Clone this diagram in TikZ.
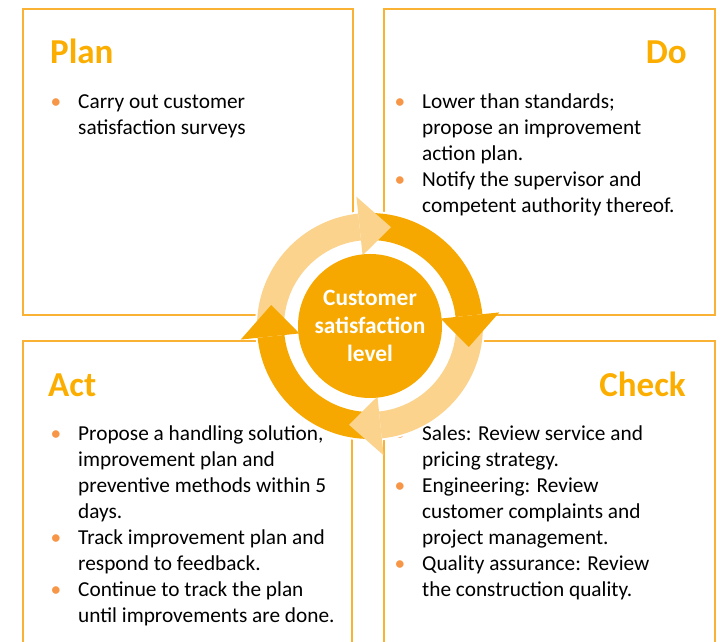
\documentclass[tikz,border=0pt]{standalone}
\usepackage{fontspec}
\setmainfont{Carlito}
\usetikzlibrary{positioning}

\definecolor{ringdark}{HTML}{F7A800}
\definecolor{ringlight}{HTML}{FBD38D}
\definecolor{boxline}{HTML}{F9B233}
\definecolor{titleor}{HTML}{FBAE00}
\definecolor{bulletor}{HTML}{F79646}

\newcommand{\bul}{\strut\llap{\textcolor{bulletor}{\textbullet}\hspace{17pt}}}

\tikzset{
  stagebox/.style={draw=boxline, line width=1.5pt, inner sep=0pt, outer sep=0pt},
  stagetitle/.style={text=titleor, inner sep=0pt, font={\fontsize{35}{40}\selectfont\bfseries}},
  itemlist/.style={inner sep=0pt, align=left, anchor=north west, font={\fontsize{21.3}{26}\selectfont}},
  hubdisc/.style={circle, fill=ringdark, text=white, inner sep=0pt, minimum size=144pt, align=center,
    font={\fontsize{23.4}{28.3}\selectfont\bfseries}},
}

\begin{document}
\begin{tikzpicture}[x=1pt, y=1pt]
  \useasboundingbox (0,0) rectangle (726,642);
  \clip (0,0) rectangle (726,642);

  % the four PDCA boxes
  \node[stagebox, minimum width=330pt, minimum height=306pt] (plan) at (188,480) {};
  \node[stagebox, minimum width=331pt, minimum height=306pt, right=31pt of plan] (do) {};
  \node[stagebox, minimum width=329pt, minimum height=320pt, below=26pt of plan.south west, anchor=north west] (act) {};
  \node[stagebox, minimum width=331pt, minimum height=320pt, right=32pt of act] (check) {};

  \node[stagetitle, anchor=base west] (plantitle) at (50,578.7) {Plan};
  \node[stagetitle, anchor=base east] (dotitle) at (687,578.7) {Do};
  \node[stagetitle, anchor=base west] (acttitle) at (48,245.5) {Act};
  \node[stagetitle, anchor=base east] (checktitle) at (686,245.5) {Check};

  \node[itemlist] (planlist) at (78,551.9) {\bul Carry out customer\\satisfaction surveys};
  \node[itemlist] (dolist) at (422,551.9) {\bul Lower than standards;\\
    propose an improvement\\
    action plan.\\
    \bul Notify the supervisor and\\
    competent authority thereof.};
  \node[itemlist] (actlist) at (78,219.5) {\bul Propose a handling solution,\\
    improvement plan and\\
    preventive methods within 5\\
    days.\\
    \bul Track improvement plan and\\
    respond to feedback.\\
    \bul Continue to track the plan\\
    until improvements are done.};
  \node[itemlist] (checklist) at (422,219.5) {\bul Sales: Review service and\\
    pricing strategy.\\
    \bul Engineering: Review\\
    customer complaints and\\
    project management.\\
    \bul Quality assurance: Review\\
    the construction quality.};

  % cycle of arrows round the hub
  \coordinate (hub) at (370,316);
  \begin{scope}[shift={(hub)}]
    \fill[white] (0,0) circle[radius=115];
    \foreach \t/\c in {78/ringlight, -12/ringdark, -102/ringlight, 168/ringdark}
      \fill[\c] (\t+100:113) arc[start angle=\t+100, end angle=\t+18, radius=113]
        -- (\t+18:86) arc[start angle=\t+18, end angle=\t+100, radius=86] -- cycle;
    \foreach \t/\c in {78/ringlight, -12/ringdark, -102/ringlight, 168/ringdark}
      \fill[\c] (\t+18:71) -- (\t+18:130) -- (\t:101) -- cycle;
  \end{scope}

  \node[hubdisc] (level) at (hub) {Customer\\satisfaction\\level};
\end{tikzpicture}
\end{document}
